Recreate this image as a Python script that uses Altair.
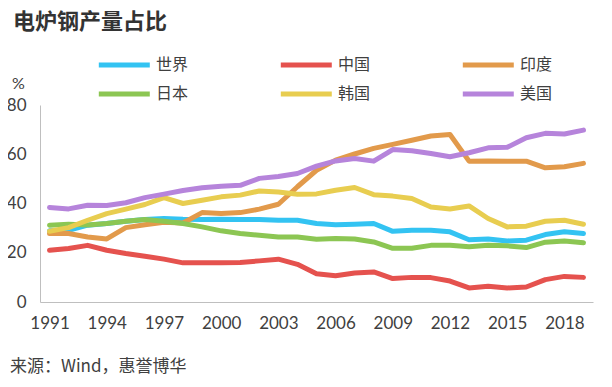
import altair as alt
import pandas as pd

years = list(range(1991, 2020))
series_names = ["世界", "中国", "印度", "日本", "韩国", "美国"]
series_colors = ["#33C3F2", "#E5524E", "#E29A4B", "#8CC653", "#E8CD50", "#B684DB"]

world = [28.9, 29.1, 31.2, 31.9, 32.8, 33.5, 33.9, 33.6, 33.5, 33.6, 33.5, 33.5, 33.2, 33.2, 31.9,
         31.4, 31.6, 31.9, 28.7, 29.1, 29.1, 28.5, 25.3, 25.6, 24.8, 25.1, 27.4, 28.5, 27.8]
china = [21.0, 21.7, 23.0, 21.0, 19.7, 18.6, 17.4, 15.9, 15.9, 15.9, 16.0, 16.7, 17.4, 15.3, 11.5,
         10.7, 11.8, 12.2, 9.5, 10.0, 9.9, 8.5, 5.7, 6.4, 5.7, 6.1, 9.1, 10.4, 10.0]
india = [27.8, 27.8, 26.4, 25.6, 30.2, 31.4, 32.4, 32.1, 36.3, 35.9, 36.3, 37.7, 39.7, 46.8, 53.5,
         57.6, 60.1, 62.4, 64.0, 65.7, 67.4, 68.0, 57.2, 57.3, 57.2, 57.2, 54.5, 54.9, 56.3]
japan = [31.2, 31.6, 31.3, 31.9, 32.8, 33.5, 32.8, 31.9, 30.5, 28.9, 27.8, 27.1, 26.4, 26.4, 25.5,
         25.8, 25.6, 24.4, 21.8, 21.8, 23.0, 23.0, 22.4, 23.0, 22.8, 22.1, 24.3, 24.8, 24.1]
korea = [28.7, 30.2, 33.2, 35.9, 37.7, 39.6, 42.4, 40.0, 41.3, 42.7, 43.4, 45.1, 44.7, 43.8, 43.9,
         45.4, 46.5, 43.6, 43.0, 42.0, 38.6, 37.8, 39.0, 33.9, 30.5, 30.8, 32.8, 33.2, 31.6]
usa = [38.4, 37.8, 39.3, 39.2, 40.3, 42.4, 43.8, 45.3, 46.4, 47.0, 47.4, 50.2, 51.0, 52.2, 55.2,
       57.3, 58.3, 57.2, 61.9, 61.4, 60.3, 59.0, 60.6, 62.6, 62.8, 66.7, 68.5, 68.2, 69.8]

x_ticks = [1991, 1994, 1997, 2000, 2003, 2006, 2009, 2012, 2015, 2018]
y_ticks = [0, 20, 40, 60, 80]
title_text = "电炉钢产量占比"
source_text = "来源：Wind，惠誉博华"

rows = []
for name, vals in zip(series_names, [world, china, india, japan, korea, usa]):
    for yr, v in zip(years, vals):
        rows.append({"年份": yr, "占比": v, "地区": name, "序": series_names.index(name)})
df = pd.DataFrame(rows)

FONT = "Lato"
CJK = "Noto Sans CJK SC"

lines = alt.Chart(df).mark_line(strokeWidth=5, strokeCap="round", strokeJoin="round").encode(
    x=alt.X("年份:Q",
            scale=alt.Scale(domain=[1990.5, 2019.5], nice=False, zero=False),
            axis=alt.Axis(values=x_ticks, format="d", title=None, ticks=False, grid=False,
                          domainColor="#BFBFBF", labelFont=FONT, labelFontSize=17,
                          labelColor="#404040", labelPadding=13, labelFlush=False)),
    y=alt.Y("占比:Q",
            scale=alt.Scale(domain=[0, 80], nice=False),
            axis=alt.Axis(values=y_ticks, title="%", titleAngle=0, titleX=-22, titleY=-22,
                          titleAlign="center", titleBaseline="middle", titleFont=FONT,
                          titleFontSize=16, titleFontWeight="normal", titleColor="#404040",
                          ticks=False, grid=False, domainColor="#BFBFBF", labelFont=FONT,
                          labelFontSize=17, labelColor="#404040", labelPadding=14)),
    color=alt.Color("地区:N",
                    scale=alt.Scale(domain=series_names, range=series_colors),
                    legend=alt.Legend(title=None, orient="none", legendX=56, legendY=-53,
                                      columns=3, symbolType="M-1,0H4", symbolSize=416,
                                      symbolStrokeWidth=5, labelFont=CJK, labelFontSize=16,
                                      labelColor="#404040", labelOffset=34, columnPadding=81,
                                      rowPadding=6, direction="horizontal")),
    order=alt.Order("序:Q"),
    detail="地区:N",
)

source = alt.Chart(pd.DataFrame({"t": [source_text]})).mark_text(
    font=CJK, fontSize=17, color="#404040", align="left", baseline="middle"
).encode(text="t:N", x=alt.value(-30), y=alt.value(262))

chart = alt.layer(lines, source).properties(
    width=553, height=197,
    autosize=alt.AutoSizeParams(type="none"),
    padding={"left": 32, "top": 97, "right": 11, "bottom": 77},
    title=alt.TitleParams(title_text, anchor="start", frame="group", dx=-27, dy=-14,
                          font=CJK, fontSize=22, fontWeight="bold", color="#333333"),
).configure_view(stroke=None)

chart.save("out.html", embed_options={"renderer": "svg", "actions": False})
